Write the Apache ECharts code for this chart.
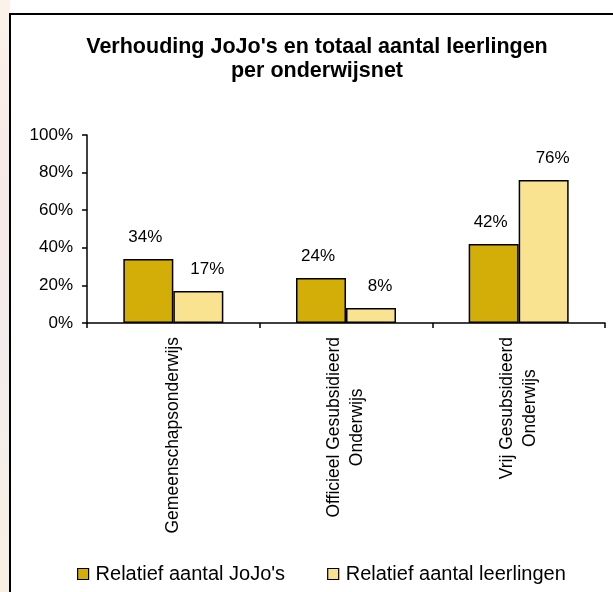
<!DOCTYPE html>
<html>
<head>
<meta charset="utf-8">
<script src="https://cdn.jsdelivr.net/npm/echarts@6/dist/echarts.min.js"></script>
<style>
  html, body { margin: 0; padding: 0; background: #fff; }
  #main { width: 613px; height: 592px; }
</style>
</head>
<body>
<div id="main"></div>
<script>
var categories = ['Gemeenschapsonderwijs', 'Officieel Gesubsidieerd\nOnderwijs', 'Vrij Gesubsidieerd\nOnderwijs'];
var jojoValues = [34, 24, 42];
var leerlingValues = [17, 8, 76];
var seriesNames = ["Relatief aantal JoJo's", 'Relatief aantal leerlingen'];

var font = 'Arial, "Liberation Sans", sans-serif';
var chart = echarts.init(document.getElementById('main'));

var option = {
    backgroundColor: '#fff',
    animation: false,
    title: {
        text: "Verhouding JoJo's en totaal aantal leerlingen\nper onderwijsnet",
        left: 312,
        textAlign: 'center',
        top: 30,
        textStyle: {
            fontFamily: font,
            fontSize: 21.5,
            fontWeight: 'bold',
            color: '#000',
            lineHeight: 24
        }
    },
    graphic: [
        {
            type: 'rect',
            shape: { x: 0, y: 0, width: 10, height: 592 },
            style: {
                fill: new echarts.graphic.LinearGradient(0, 0, 0, 1, [
                    { offset: 0, color: '#fbf3ea' },
                    { offset: 0.3, color: '#f6e9e6' },
                    { offset: 0.6, color: '#f3ecec' },
                    { offset: 1, color: '#f8f0e2' }
                ])
            },
            silent: true
        },
        {
            type: 'polyline',
            shape: { points: [[10, 592], [10, 14], [613, 14]] },
            style: { stroke: '#000', lineWidth: 2, fill: null },
            silent: true
        }
    ],
    legend: {
        left: 77,
        top: 564,
        padding: 0,
        itemWidth: 11,
        itemHeight: 11,
        itemGap: 42,
        icon: 'rect',
        data: seriesNames,
        textStyle: { fontFamily: font, fontSize: 20, color: '#000', padding: [0, 0, 0, 2] },
        itemStyle: { borderColor: '#000', borderWidth: 1.2 }
    },
    grid: { left: 87, right: 8, top: 135, bottom: 269 },
    xAxis: {
        type: 'category',
        data: categories,
        axisLine: { lineStyle: { color: '#000', width: 1.5 } },
        axisTick: { show: true, length: 5, lineStyle: { color: '#000', width: 1.5 } },
        axisLabel: {
            rotate: 90,
            margin: 14,
            interval: 0,
            color: '#000',
            fontFamily: font,
            fontSize: 17.5,
            formatter: function (v) {
                return v.split('\n').map(function (s) { return '{c|' + s + '}'; }).join('\n');
            },
            rich: {
                c: { align: 'center', fontFamily: font, fontSize: 17.5, lineHeight: 23, color: '#000' }
            }
        }
    },
    yAxis: {
        type: 'value',
        min: 0,
        max: 100,
        interval: 20,
        axisLine: { show: true, lineStyle: { color: '#000', width: 1.5 } },
        axisTick: { show: true, length: 5, lineStyle: { color: '#000', width: 1.5 } },
        splitLine: { show: false },
        axisLabel: {
            formatter: '{value}%',
            margin: 14,
            color: '#000',
            fontFamily: font,
            fontSize: 17
        }
    },
    series: [
        {
            name: seriesNames[0],
            type: 'bar',
            data: jojoValues,
            barWidth: 50,
            barGap: '0%',
            itemStyle: { color: '#d4ae08', borderColor: '#000', borderWidth: 1.5 },
            label: {
                show: true,
                position: 'top',
                distance: 13,
                offset: [-3, 0],
                formatter: '{c}%',
                color: '#000',
                fontFamily: font,
                fontSize: 17
            }
        },
        {
            name: seriesNames[1],
            type: 'bar',
            data: leerlingValues,
            barWidth: 50,
            barGap: '0%',
            itemStyle: { color: '#f9e391', borderColor: '#000', borderWidth: 1.5 },
            label: {
                show: true,
                position: 'top',
                distance: 13,
                offset: [9, 0],
                formatter: '{c}%',
                color: '#000',
                fontFamily: font,
                fontSize: 17
            }
        }
    ]
};
chart.setOption(option);
</script>
</body>
</html>
